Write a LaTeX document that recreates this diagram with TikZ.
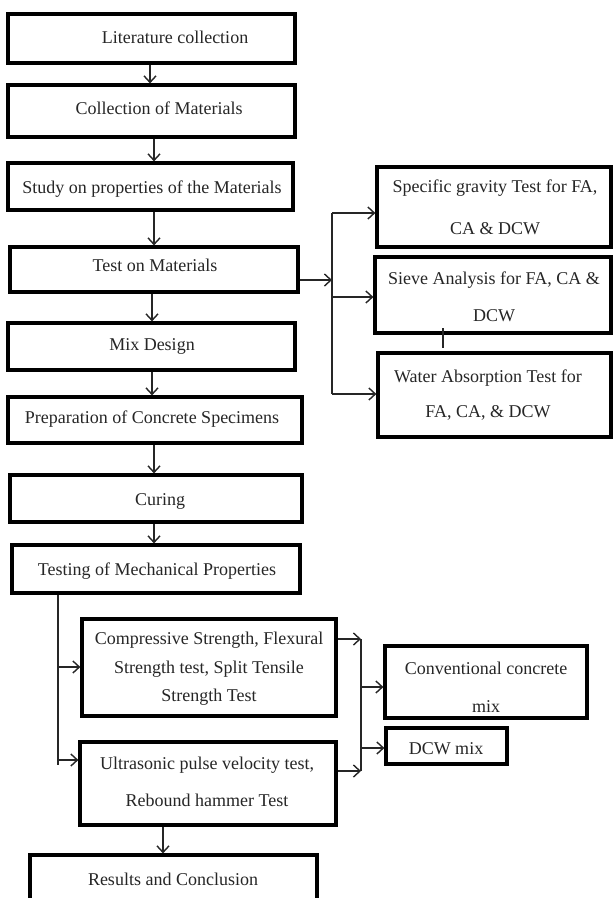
\documentclass[tikz,border=0pt]{standalone}
\usepackage{fontspec}
\setmainfont{Liberation Serif}
\usetikzlibrary{arrows.meta}
\tikzset{
  box/.style={draw=black, line width=3.2pt, rectangle, inner sep=0pt},
  txt/.style={inner sep=0pt, align=center, text=black!85},
  arr/.style={draw=black!85, line width=1.4pt, -{Straight Barb[length=6.5pt,width=12pt]}},
  ln/.style={draw=black!85, line width=1.4pt},
}
\newcommand{\mybox}[5]{\node[box, minimum width=#4-#2, minimum height=#5-#3] (#1) at ({(#2+#4)/2},{(#3+#5)/2}) {};}
\begin{document}
\begin{tikzpicture}[x=1pt,y=-1pt]
\clip (0,0) rectangle (614,898);
\fill[white] (0,0) rectangle (614,898);
% main column boxes
\mybox{b1}{8}{14}{295}{63}
\mybox{b2}{8}{85}{295}{137}
\mybox{b3}{8}{163}{293}{210}
\mybox{b4}{10}{247}{298}{292}
\mybox{b5}{8}{323}{295}{370}
\mybox{b6}{8}{397}{302}{443}
\mybox{b7}{10}{475}{302}{522}
\mybox{b8}{12}{545}{300}{593}
% right boxes
\mybox{bA}{377}{167}{611}{247}
\mybox{bB}{375}{257}{611}{333}
\mybox{bC}{378}{353}{611}{437}
% lower boxes
\mybox{bD}{82}{619}{336}{716}
\mybox{bE}{80}{742}{336}{825}
\mybox{bF}{385}{646}{587}{718}
\mybox{bG}{386}{728}{507}{764}
\mybox{bH}{30}{855}{317}{925}
% texts
\begin{scope}[every node/.style={txt, font=\fontsize{18}{22}\selectfont}]
\node (t1) at (175,37) {Literature collection};
\node (t2) at (159,108) {Collection of Materials};
\node (t3) at (152,189) {Study on properties of the Materials};
\node (t4) at (155,265) {Test on Materials};
\node (t5) at (152,346) {Mix Design};
\node (t6) at (152,419) {Preparation of Concrete Specimens};
\node (t7) at (160,501) {Curing};
\node (t8) at (157,571) {Testing of Mechanical Properties};
\node (tG) at (446,749) {DCW mix};
\node (tH) at (173,879) {Results and Conclusion};
\node[font=\fontsize{18}{42}\selectfont] (tA) at (495,207) {Specific gravity Test for FA,\\CA \& DCW};
\node[font=\fontsize{18}{37}\selectfont] (tB) at (494,297) {Sieve Analysis for FA, CA \&\\DCW};
\node[font=\fontsize{18}{35}\selectfont] (tC) at (488,395) {Water Absorption Test for\\FA, CA, \& DCW};
\node[font=\fontsize{18}{28.5}\selectfont] (tD) at (209,669) {Compressive Strength, Flexural\\Strength test, Split Tensile\\Strength Test};
\node[font=\fontsize{18}{37}\selectfont] (tE) at (207,782) {Ultrasonic pulse velocity test,\\Rebound hammer Test};
\node[font=\fontsize{18}{38}\selectfont] (tF) at (486,687) {Conventional concrete\\mix};
\end{scope}
% main column arrows
\coordinate (x150) at (150,0);
\coordinate (x154) at (154,0);
\coordinate (x152) at (152,0);
\draw[arr] (b1.south -| x150) -- (b2.north -| x150);
\draw[arr] (b2.south -| x154) -- (b3.north -| x154);
\draw[arr] (b3.south -| x154) -- (b4.north -| x154);
\draw[arr] (b4.south -| x152) -- (b5.north -| x152);
\draw[arr] (b5.south -| x152) -- (b6.north -| x152);
\draw[arr] (b6.south -| x154) -- (b7.north -| x154);
\draw[arr] (b7.south -| x154) -- (b8.north -| x154);
% branch to tests on materials
\coordinate (v1top) at (332,213);
\coordinate (v1bot) at (332,394);
\coordinate (v1mid) at (332,280);
\draw[ln] (v1top) -- (v1bot);
\draw[arr] (b4.east |- v1mid) -- (v1mid);
\draw[arr] (v1top) -- (bA.west |- v1top);
\draw[arr] (332,297) coordinate (v1b) -- (bB.west |- v1b);
\draw[arr] (v1bot) -- (bC.west |- v1bot);
% small mark on sieve box
\coordinate (mk1) at (443,328);
\coordinate (mk2) at (443,348);
\draw[black!85, line width=2.2pt] (mk1) -- (mk2);
% branch to mechanical tests
\coordinate (v2top) at (b8.south -| 58,0);
\coordinate (v2bot) at (58,765);
\draw[ln] (v2top) -- (v2bot);
\draw[arr] (58,667) coordinate (v2d) -- (bD.west |- v2d);
\draw[arr] (58,760) coordinate (v2e) -- (bE.west |- v2e);
% branch to mixes
\coordinate (v3top) at (361,639);
\coordinate (v3bot) at (361,771);
\draw[ln] (v3top) -- (v3bot);
\draw[arr] (bD.east |- v3top) -- (v3top);
\draw[arr] (bE.east |- v3bot) -- (v3bot);
\draw[arr] (361,687) coordinate (v3f) -- (bF.west |- v3f);
\draw[arr] (361,748) coordinate (v3g) -- (bG.west |- v3g);
% to results
\coordinate (x163) at (163,0);
\draw[arr] (bE.south -| x163) -- (bH.north -| x163);
\end{tikzpicture}
\end{document}
